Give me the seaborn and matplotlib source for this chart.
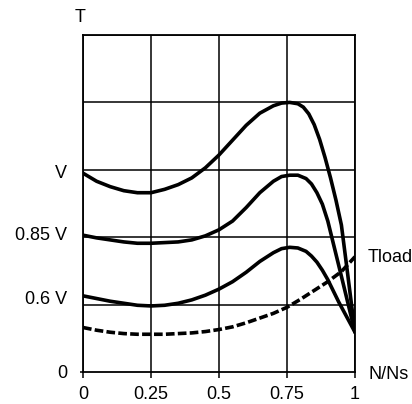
import matplotlib
matplotlib.use("Agg")
import matplotlib.pyplot as plt
import seaborn as sns

# ---- data ----
x_v = [0.00, 0.05, 0.10, 0.15, 0.20, 0.25, 0.30, 0.35, 0.40, 0.45, 0.50, 0.55,
       0.60, 0.65, 0.70, 0.73, 0.76, 0.79, 0.81, 0.83, 0.85, 0.87, 0.89, 0.91,
       0.93, 0.95, 0.97, 1.00]
t_v = [2.95, 2.83, 2.75, 2.69, 2.66, 2.66, 2.71, 2.78, 2.88, 3.03, 3.22, 3.44,
       3.66, 3.84, 3.95, 3.99, 4.00, 3.98, 3.93, 3.83, 3.67, 3.45, 3.18, 2.88,
       2.55, 2.18, 1.55, 0.59]

x_085 = [0.00, 0.05, 0.10, 0.15, 0.20, 0.25, 0.30, 0.35, 0.40, 0.45, 0.50, 0.55,
         0.60, 0.65, 0.70, 0.73, 0.76, 0.79, 0.82, 0.84, 0.86, 0.88, 0.90, 0.95,
         1.00]
t_085 = [2.03, 1.99, 1.96, 1.93, 1.91, 1.91, 1.92, 1.93, 1.96, 2.02, 2.11, 2.24,
         2.44, 2.66, 2.83, 2.90, 2.92, 2.92, 2.87, 2.79, 2.66, 2.49, 2.24, 1.42,
         0.59]

x_06 = [0.00, 0.05, 0.10, 0.15, 0.20, 0.25, 0.30, 0.35, 0.40, 0.45, 0.50, 0.55,
        0.60, 0.65, 0.70, 0.73, 0.76, 0.79, 0.82, 0.84, 0.86, 0.88, 0.90, 0.94,
        1.00]
t_06 = [1.13, 1.09, 1.05, 1.02, 0.99, 0.98, 0.99, 1.02, 1.07, 1.14, 1.23, 1.34,
        1.48, 1.64, 1.77, 1.83, 1.85, 1.84, 1.79, 1.72, 1.63, 1.51, 1.37, 1.04,
        0.59]

x_load = [0.00, 0.05, 0.10, 0.15, 0.20, 0.25, 0.30, 0.35, 0.40, 0.45, 0.50,
          0.55, 0.60, 0.65, 0.70, 0.75, 0.80, 0.85, 0.90, 0.95, 1.00]
t_load = [0.66, 0.62, 0.59, 0.57, 0.56, 0.56, 0.56, 0.57, 0.58, 0.60, 0.63,
          0.67, 0.73, 0.80, 0.87, 0.96, 1.08, 1.21, 1.34, 1.49, 1.71]

x_ticks = [0, 0.25, 0.5, 0.75, 1]
x_labels = ["0", "0.25", "0.5", "0.75", "1"]
y_ticks = [0, 1.11, 2.05, 2.97]
y_labels = ["0", "0.6 V", "0.85 V", "V"]
y_grid = [0, 1, 2, 3, 4, 5]

# ---- plotting ----
sns.set_theme(style="white")
plt.rcParams["font.family"] = ["Liberation Sans", "DejaVu Sans"]

fig = plt.figure(figsize=(4.12, 4.04), dpi=100)
ax = fig.add_axes([83 / 412, 1 - 372 / 404, 272 / 412, 337 / 404])

curve_lw = 2.6
for xs, ys in [(x_v, t_v), (x_085, t_085), (x_06, t_06)]:
    sns.lineplot(x=xs, y=ys, ax=ax, color="black", linewidth=curve_lw,
                 sort=False, estimator=None)
ld = sns.lineplot(x=x_load, y=t_load, ax=ax, color="black", linewidth=curve_lw,
                  sort=False, estimator=None)
ld.lines[-1].set_dashes((2.4, 0.9))
for ln in ax.lines:
    ln.set_solid_joinstyle("round")
    ln.set_dash_joinstyle("round")

ax.set_xlim(0, 1)
ax.set_ylim(0, 5)
ax.set_xticks(x_ticks)
ax.set_xticklabels(x_labels)
ax.set_yticks(y_ticks)
ax.set_yticklabels(y_labels)
ax.set_yticks(y_grid, minor=True)

ax.grid(False)
ax.grid(True, which="major", axis="x", color="black", linewidth=1.1)
ax.grid(True, which="minor", axis="y", color="black", linewidth=1.1)
ax.set_axisbelow(True)

for s in ax.spines.values():
    s.set_visible(True)
    s.set_color("black")
    s.set_linewidth(1.3)

ax.tick_params(axis="x", which="major", bottom=True, length=4, width=1.1,
               color="black", pad=6, labelsize=13, labelcolor="black")
ax.tick_params(axis="y", which="major", left=True, length=2.5, width=1.1,
               color="black", pad=9, labelsize=13, labelcolor="black")
ax.tick_params(axis="y", which="minor", left=False, length=0)
for i, t in enumerate(ax.yaxis.get_major_ticks()):
    t.tick1line.set_visible(i == 0)

ax.set_xlabel("")
ax.set_ylabel("")

ax.annotate("T", xy=(-0.011, 1.053), xycoords="axes fraction",
            ha="center", va="center", fontsize=13, color="black")
ax.annotate("N/Ns", xy=(1.051, -0.006), xycoords="axes fraction",
            ha="left", va="center", fontsize=13, color="black",
            annotation_clip=False)
ax.annotate("Tload", xy=(1.048, 0.341), xycoords="axes fraction",
            ha="left", va="center", fontsize=13, color="black",
            annotation_clip=False)

fig.savefig("out.png", dpi=100)
